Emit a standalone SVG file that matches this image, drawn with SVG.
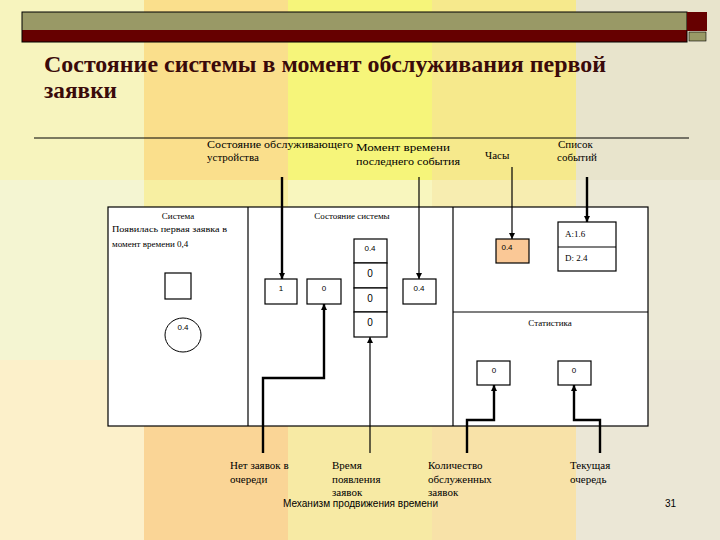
<svg xmlns="http://www.w3.org/2000/svg" width="720" height="540" viewBox="0 0 720 540">
<defs>
<style>
.bx{fill:#ffffff;stroke:#000;stroke-width:1.2}
.ln{fill:none;stroke:#000}
.t1{stroke-width:1.2}
.t2{stroke-width:2.4}
.lb{font-family:"Liberation Serif",serif;font-size:11px;fill:#000}
.sm{font-family:"Liberation Serif",serif;font-size:9px;fill:#000}
.nm{font-family:"Liberation Sans",sans-serif;font-size:10px;fill:#000;text-anchor:middle}
.tn{font-family:"Liberation Sans",sans-serif;font-size:8px;fill:#000;text-anchor:middle}
.ti{font-family:"Liberation Serif",serif;font-size:23px;font-weight:bold;fill:#3a0a0a}
</style>
<marker id="ah" viewBox="0 0 10 10" refX="10" refY="5" markerWidth="6" markerHeight="6" markerUnits="userSpaceOnUse" orient="auto">
<path d="M0,0 L10,5 L0,10 Z" fill="#000"/>
</marker>
</defs>
<g id="background">
<rect x="0" y="0" width="144" height="180" fill="#F7F4BE"/>
<rect x="144" y="0" width="144" height="180" fill="#FADF8C"/>
<rect x="288" y="0" width="144" height="180" fill="#F6F57A"/>
<rect x="432" y="0" width="144" height="180" fill="#F6E98C"/>
<rect x="576" y="0" width="144" height="180" fill="#E8E4CC"/>
<rect x="0" y="180" width="144" height="180" fill="#F4F5D2"/>
<rect x="144" y="180" width="144" height="180" fill="#F7EFA2"/>
<rect x="288" y="180" width="144" height="180" fill="#F8F6BE"/>
<rect x="432" y="180" width="144" height="180" fill="#F7EDB0"/>
<rect x="576" y="180" width="144" height="180" fill="#ECE9D6"/>
<rect x="0" y="360" width="144" height="180" fill="#FCF0CA"/>
<rect x="144" y="360" width="144" height="180" fill="#FAD596"/>
<rect x="288" y="360" width="144" height="180" fill="#F7EAA4"/>
<rect x="432" y="360" width="144" height="180" fill="#F8E2A8"/>
<rect x="576" y="360" width="144" height="180" fill="#EBE7D6"/>
</g>
<g id="header">
<rect x="22" y="12" width="665" height="18" fill="#999966"/>
<rect x="22" y="30" width="665" height="12" fill="#660000"/>
<rect x="22" y="12" width="665" height="30" fill="none" stroke="#000" stroke-width="1"/>
<rect x="687" y="12" width="20" height="19" fill="#660000"/>
<rect x="689" y="32" width="17" height="9" fill="#999966" stroke="#000" stroke-width="0.6"/>
<text class="ti" x="44" y="72" textLength="562" lengthAdjust="spacingAndGlyphs">Состояние системы в момент обслуживания первой</text>
<text class="ti" x="44" y="98" textLength="73" lengthAdjust="spacingAndGlyphs">заявки</text>
<line x1="34" y1="138" x2="689" y2="138" stroke="#000" stroke-width="1"/>
</g>
<g id="top-labels">
<text class="lb" x="207" y="148" textLength="146" lengthAdjust="spacingAndGlyphs">Состояние обслуживающего</text>
<text class="lb" x="207" y="161">устройства</text>
<text class="lb" x="356" y="151" textLength="94" lengthAdjust="spacingAndGlyphs">Момент времени</text>
<text class="lb" x="356" y="165" textLength="104" lengthAdjust="spacingAndGlyphs">последнего события</text>
<text class="lb" x="485" y="159">Часы</text>
<text class="lb" x="558" y="148">Список</text>
<text class="lb" x="557" y="161">событий</text>
</g>
<g id="main-box">
<rect class="bx" x="108" y="207" width="540" height="219"/>
<line class="ln t1" x1="248" y1="207" x2="248" y2="426"/>
<line class="ln t1" x1="453" y1="207" x2="453" y2="426"/>
<line class="ln t1" x1="453" y1="312" x2="648" y2="312"/>
</g>
<g id="system">
<text class="sm" x="178" y="219" text-anchor="middle">Система</text>
<text class="sm" x="112" y="232" textLength="115" lengthAdjust="spacingAndGlyphs">Появилась первая заявка в</text>
<text class="sm" x="112" y="247">момент времени  0,4</text>
<rect class="bx" x="165" y="273" width="26" height="26"/>
<ellipse cx="183" cy="335" rx="18" ry="17" fill="#fff" stroke="#000" stroke-width="1"/>
<text class="tn" x="183" y="330">0.4</text>
</g>
<g id="system-state">
<text class="sm" x="352" y="219" text-anchor="middle">Состояние системы</text>
</g>
<g id="server-box">
<rect class="bx" x="265" y="279" width="32" height="25"/>
<text class="tn" x="281" y="291">1</text>
</g>
<g id="queue-count">
<rect class="bx" x="307" y="279" width="34" height="25"/>
<text class="tn" x="324" y="291">0</text>
</g>
<g id="queue-stack">
<rect class="bx" x="354" y="239" width="33" height="24"/>
<rect class="bx" x="354" y="263" width="33" height="25"/>
<rect class="bx" x="354" y="288" width="33" height="24"/>
<rect class="bx" x="354" y="312" width="33" height="25"/>
<text class="tn" x="370" y="251">0.4</text>
<text class="nm" x="370" y="277">0</text>
<text class="nm" x="370" y="302">0</text>
<text class="nm" x="370" y="326">0</text>
</g>
<g id="last-event">
<rect class="bx" x="403" y="279" width="33" height="25"/>
<text class="tn" x="419" y="291">0.4</text>
</g>
<g id="clock">
<rect x="496" y="239" width="33" height="24" fill="#FAC896" stroke="#000" stroke-width="1.2"/>
<text class="tn" x="507" y="250">0.4</text>
</g>
<g id="event-list">
<rect class="bx" x="558" y="222" width="58" height="49"/>
<line class="ln t1" x1="558" y1="247" x2="616" y2="247"/>
<text class="sm" x="565" y="237">A:1.6</text>
<text class="sm" x="565" y="261">D: 2.4</text>
</g>
<g id="statistics">
<text class="sm" x="550" y="326" text-anchor="middle">Статистика</text>
</g>
<g id="served-count">
<rect class="bx" x="477" y="361" width="33" height="24"/>
<text class="tn" x="494" y="373">0</text>
</g>
<g id="current-queue">
<rect class="bx" x="558" y="361" width="33" height="24"/>
<text class="tn" x="574" y="373">0</text>
</g>
<g id="connectors">
<polyline class="ln t2" points="282,177 282,279" marker-end="url(#ah)"/>
<polyline class="ln t1" points="419,177 419,279" marker-end="url(#ah)"/>
<polyline class="ln t1" points="512,167 512,239" marker-end="url(#ah)"/>
<polyline class="ln t2" points="587,177 587,222" marker-end="url(#ah)"/>
<polyline class="ln t2" points="263,453 263,378 324,378 324,304" marker-end="url(#ah)"/>
<polyline class="ln t1" points="370,453 370,337" marker-end="url(#ah)"/>
<polyline class="ln t2" points="467,453 467,420 494,420 494,385" marker-end="url(#ah)"/>
<polyline class="ln t2" points="600,453 600,420 574,420 574,385" marker-end="url(#ah)"/>
</g>
<g id="bottom-labels">
<text class="lb" x="230" y="469">Нет заявок в</text>
<text class="lb" x="230" y="483">очереди</text>
<text class="lb" x="332" y="469">Время</text>
<text class="lb" x="332" y="483">появления</text>
<text class="lb" x="332" y="496">заявок</text>
<text class="lb" x="428" y="469">Количество</text>
<text class="lb" x="428" y="483">обслуженных</text>
<text class="lb" x="428" y="496">заявок</text>
<text class="lb" x="570" y="469">Текущая</text>
<text class="lb" x="570" y="483">очередь</text>
</g>
<g id="footer">
<text x="283" y="507" font-family="Liberation Sans, sans-serif" font-size="10" fill="#000" textLength="155" lengthAdjust="spacingAndGlyphs">Механизм продвижения времени</text>
<text x="665" y="507" font-family="Liberation Sans, sans-serif" font-size="10" fill="#000">31</text>
</g>
</svg>
